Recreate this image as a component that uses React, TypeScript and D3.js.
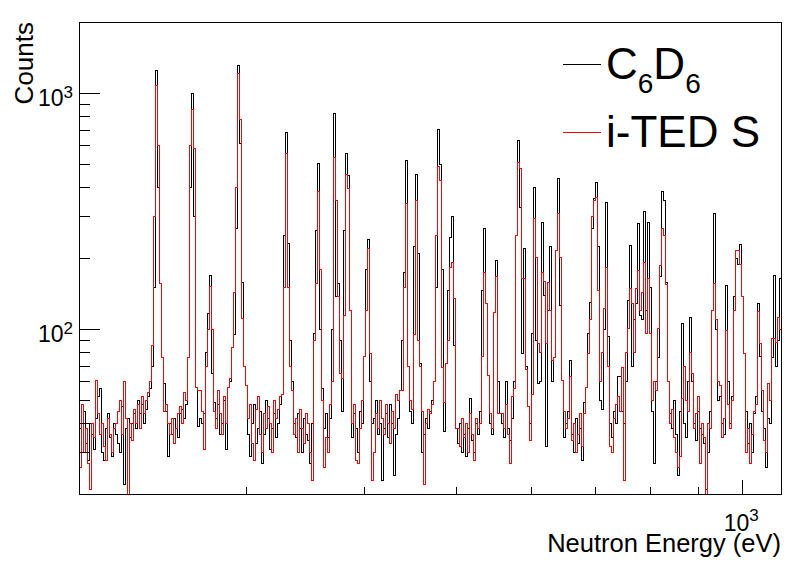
import React, { useEffect, useRef } from 'react';
import * as d3 from 'd3';

const W = 798;
const H = 574;

// axis ranges (log scales)
const xDomain: [number, number] = [200, 1100];
const yDomain: [number, number] = [20, 2000];
const nBins = 351;

// C6D6 counts per bin (log-spaced bins from 200 eV to 1100 eV)
const c6d6Counts = [
  38, 30, 45, 33, 28, 40, 36, 31, 42, 52,
  56, 30, 28, 38, 44, 35, 29, 40, 36, 33,
  30, 47, 22, 38, 42, 35, 40, 44, 38, 50,
  44, 48, 40, 46, 52, 56, 70, 150, 1251, 400,
  157, 76, 59, 45, 29, 40, 36, 42, 38, 35,
  44, 46, 42, 48, 76, 400, 1000, 300, 57, 39,
  42, 40, 44, 80, 117, 170, 65, 49, 42, 48,
  36, 40, 50, 31, 57, 60, 84, 95, 268, 1313,
  614, 159, 70, 58, 36, 29, 40, 48, 33, 38,
  45, 27, 36, 50, 42, 31, 38, 44, 35, 40,
  48, 53, 250, 683, 232, 90, 60, 40, 35, 44,
  38, 30, 42, 36, 34, 27, 40, 96, 263, 503,
  100, 56, 38, 44, 35, 42, 100, 820, 138, 157,
  90, 45, 263, 556, 450, 120, 35, 44, 38, 30,
  45, 40, 77, 180, 241, 60, 40, 42, 50, 36,
  40, 23, 38, 44, 35, 48, 40, 24, 36, 42,
  55, 90, 175, 521, 70, 45, 40, 224, 454, 210,
  72, 30, 36, 42, 38, 45, 50, 60, 150, 707,
  500, 180, 37, 72, 147, 245, 300, 86, 38, 33,
  40, 30, 36, 29, 38, 51, 34, 30, 40, 36,
  45, 147, 268, 129, 64, 40, 36, 118, 196, 60,
  44, 40, 35, 60, 38, 34, 42, 60, 250, 632,
  330, 79, 220, 70, 47, 40, 96, 401, 90, 59,
  60, 285, 140, 32, 120, 224, 60, 76, 216, 435,
  127, 61, 35, 40, 45, 74, 36, 30, 42, 33,
  38, 28, 49, 57, 96, 130, 268, 360, 421, 224,
  50, 46, 100, 347, 93, 40, 35, 45, 40, 63,
  63, 45, 40, 60, 133, 227, 70, 110, 129, 282,
  115, 110, 316, 120, 285, 150, 45, 27, 60, 76,
  167, 383, 352, 159, 60, 44, 38, 50, 36, 24,
  45, 106, 40, 35, 60, 113, 60, 40, 34, 45,
  38, 36, 33, 21, 30, 45, 120, 309, 100, 50,
  52, 40, 36, 153, 60, 40, 52, 138, 200, 188,
  230, 138, 79, 45, 33, 40, 30, 44, 52, 129,
  77, 45, 38, 26, 42, 40, 76, 170, 70, 90,
  164,
];

// i-TED S counts per bin
const itedCounts = [
  26, 48, 30, 38, 27, 21, 40, 35, 61, 44,
  36, 40, 32, 28, 42, 36, 30, 38, 40, 45,
  50, 36, 60, 42, 20, 40, 34, 46, 40, 48,
  38, 52, 44, 50, 54, 60, 86, 300, 1081, 603,
  157, 76, 45, 48, 40, 36, 42, 33, 38, 44,
  47, 40, 54, 50, 76, 600, 860, 585, 57, 55,
  55, 45, 31, 70, 100, 152, 100, 45, 38, 55,
  44, 36, 52, 40, 57, 62, 84, 143, 400, 1212,
  780, 111, 70, 58, 42, 48, 33, 28, 46, 52,
  36, 30, 44, 38, 47, 40, 30, 50, 42, 46,
  52, 53, 150, 556, 150, 70, 55, 36, 42, 30,
  46, 38, 33, 44, 40, 30, 23, 90, 157, 383,
  180, 50, 26, 35, 30, 48, 60, 538, 352, 138,
  65, 62, 115, 456, 397, 120, 40, 48, 28, 27,
  38, 50, 77, 120, 220, 79, 23, 30, 44, 38,
  50, 42, 36, 48, 40, 33, 45, 38, 53, 50,
  55, 55, 150, 341, 70, 50, 46, 95, 352, 90,
  70, 45, 22, 40, 46, 44, 48, 60, 250, 489,
  429, 69, 49, 72, 90, 184, 193, 136, 38, 38,
  32, 42, 35, 40, 30, 44, 36, 28, 42, 38,
  40, 77, 175, 129, 64, 44, 38, 118, 167, 44,
  44, 44, 38, 48, 36, 27, 52, 56, 250, 510,
  480, 164, 164, 68, 47, 34, 53, 295, 202, 87,
  80, 174, 160, 87, 159, 120, 74, 76, 216, 309,
  202, 61, 45, 38, 42, 63, 34, 40, 30, 36,
  44, 32, 44, 57, 79, 110, 300, 352, 364, 147,
  60, 80, 123, 184, 70, 32, 30, 42, 48, 52,
  45, 69, 23, 80, 101, 149, 129, 80, 149, 178,
  120, 144, 193, 96, 165, 96, 50, 60, 55, 101,
  187, 268, 250, 155, 60, 40, 46, 35, 30, 26,
  29, 51, 70, 50, 45, 80, 65, 38, 44, 52,
  27, 40, 35, 20, 40, 38, 120, 156, 110, 60,
  58, 35, 42, 99, 48, 38, 50, 120, 216, 216,
  188, 138, 79, 30, 38, 27, 36, 45, 48, 119,
  87, 55, 34, 30, 59, 50, 92, 92, 88, 113,
  100,
];

const seriesColors = ['#000000', '#ff0000'];
const yMajorTicks = [100, 1000];
const yMajorExp = ['2', '3'];
const yMinorTicks = [30, 40, 50, 60, 70, 80, 90, 200, 300, 400, 500, 600, 700, 800, 900];
const xMajorTicks = [1000];
const xMajorExp = ['3'];
const xMinorTicks = [300, 400, 500, 600, 700, 800, 900];
const xTitle = 'Neutron Energy (eV)';
const yTitle = 'Counts';

const FONT = '"Liberation Sans", Arial, Helvetica, sans-serif';

export default function App() {
  const ref = useRef<SVGSVGElement>(null);

  useEffect(() => {
    const svg = d3.select(ref.current);
    svg.selectAll('*').remove();

    const fr = { left: 79.5, right: 781.5, top: 22.5, bottom: 494.5 };
    const x = d3.scaleLog().domain(xDomain).range([fr.left, fr.right]);
    const y = d3.scaleLog().domain(yDomain).range([fr.bottom, fr.top]);

    const lo = Math.log10(xDomain[0]);
    const hi = Math.log10(xDomain[1]);
    const edges = d3.range(nBins + 1).map((i) => Math.pow(10, lo + ((hi - lo) * i) / nBins));

    svg.append('rect').attr('width', W).attr('height', H).attr('fill', '#fff');

    const line = d3
      .line<[number, number]>()
      .x((d) => d[0])
      .y((d) => d[1])
      .curve(d3.curveStepAfter);

    const g = svg.append('g');
    const seriesList = [c6d6Counts, itedCounts];
    seriesList.forEach((counts, si) => {
      const pts: [number, number][] = counts.map((v, i) => [
        Math.round(x(edges[i]) - 0.5) + 0.5,
        Math.round(y(v) - 0.5) + 0.5,
      ]);
      pts.push([fr.right, Math.round(y(counts[counts.length - 1]) - 0.5) + 0.5]);
      g.append('path')
        .attr('d', line(pts) as string)
        .attr('fill', 'none')
        .attr('stroke', seriesColors[si])
        .attr('stroke-width', 1)
        .attr('shape-rendering', 'crispEdges');
    });

    // frame
    svg
      .append('rect')
      .attr('x', fr.left)
      .attr('y', fr.top)
      .attr('width', fr.right - fr.left)
      .attr('height', fr.bottom - fr.top)
      .attr('fill', 'none')
      .attr('stroke', '#000')
      .attr('stroke-width', 1)
      .attr('shape-rendering', 'crispEdges');

    // ticks
    const ax = svg.append('g').attr('stroke', '#000').attr('shape-rendering', 'crispEdges');
    yMajorTicks.forEach((t) => {
      const yy = Math.round(y(t) - 0.5) + 0.5;
      ax.append('line').attr('x1', fr.left).attr('x2', fr.left + 20).attr('y1', yy).attr('y2', yy);
    });
    yMinorTicks.forEach((t) => {
      const yy = Math.round(y(t) - 0.5) + 0.5;
      ax.append('line').attr('x1', fr.left).attr('x2', fr.left + 10).attr('y1', yy).attr('y2', yy);
    });
    xMajorTicks.forEach((t) => {
      const xx = Math.round(x(t) - 0.5) + 0.5;
      ax.append('line').attr('x1', xx).attr('x2', xx).attr('y1', fr.bottom).attr('y2', fr.bottom - 15);
    });
    xMinorTicks.forEach((t) => {
      const xx = Math.round(x(t) - 0.5) + 0.5;
      ax.append('line').attr('x1', xx).attr('x2', xx).attr('y1', fr.bottom).attr('y2', fr.bottom - 8);
    });

    // y tick labels
    yMajorTicks.forEach((t, i) => {
      const tx = svg
        .append('text')
        .attr('x', 73)
        .attr('y', y(t) + 12.5)
        .attr('text-anchor', 'end')
        .attr('font-family', FONT)
        .attr('font-size', 23)
        .attr('fill', '#000');
      tx.append('tspan').text('10');
      tx.append('tspan').attr('dy', -8).attr('font-size', 17).text(yMajorExp[i]);
    });

    // x tick labels
    xMajorTicks.forEach((t, i) => {
      const tx = svg
        .append('text')
        .attr('x', x(t) - 1)
        .attr('y', 531)
        .attr('text-anchor', 'middle')
        .attr('font-family', FONT)
        .attr('font-size', 23)
        .attr('fill', '#000');
      tx.append('tspan').text('10');
      tx.append('tspan').attr('dy', -10).attr('font-size', 17).text(xMajorExp[i]);
    });

    // axis titles
    svg
      .append('text')
      .attr('x', 781)
      .attr('y', 552)
      .attr('text-anchor', 'end')
      .attr('font-family', FONT)
      .attr('font-size', 25.5)
      .attr('fill', '#000')
      .text(xTitle);

    svg
      .append('text')
      .attr('transform', 'translate(33,22) rotate(-90)')
      .attr('text-anchor', 'end')
      .attr('font-family', FONT)
      .attr('font-size', 26)
      .attr('fill', '#000')
      .text(yTitle);

    // legend
    const lg = svg.append('g');
    lg.append('line')
      .attr('x1', 563).attr('x2', 601).attr('y1', 64.5).attr('y2', 64.5)
      .attr('stroke', seriesColors[0]).attr('shape-rendering', 'crispEdges');
    lg.append('line')
      .attr('x1', 563).attr('x2', 601).attr('y1', 132.5).attr('y2', 132.5)
      .attr('stroke', seriesColors[1]).attr('shape-rendering', 'crispEdges');

    const t1 = lg
      .append('text')
      .attr('x', 606)
      .attr('y', 79)
      .attr('font-family', FONT)
      .attr('font-size', 44)
      .attr('fill', '#000');
    t1.append('tspan').text('C');
    t1.append('tspan').attr('dy', 14).attr('font-size', 28).text('6');
    t1.append('tspan').attr('dy', -14).text('D');
    t1.append('tspan').attr('dy', 14).attr('font-size', 28).text('6');

    lg.append('text')
      .attr('x', 606)
      .attr('y', 147)
      .attr('font-family', FONT)
      .attr('font-size', 44)
      .attr('fill', '#000')
      .text('i-TED S');
  }, []);

  return (
    <svg
      ref={ref}
      width={W}
      height={H}
      style={{ position: 'absolute', left: 0, top: 0, display: 'block', background: '#fff' }}
    />
  );
}
